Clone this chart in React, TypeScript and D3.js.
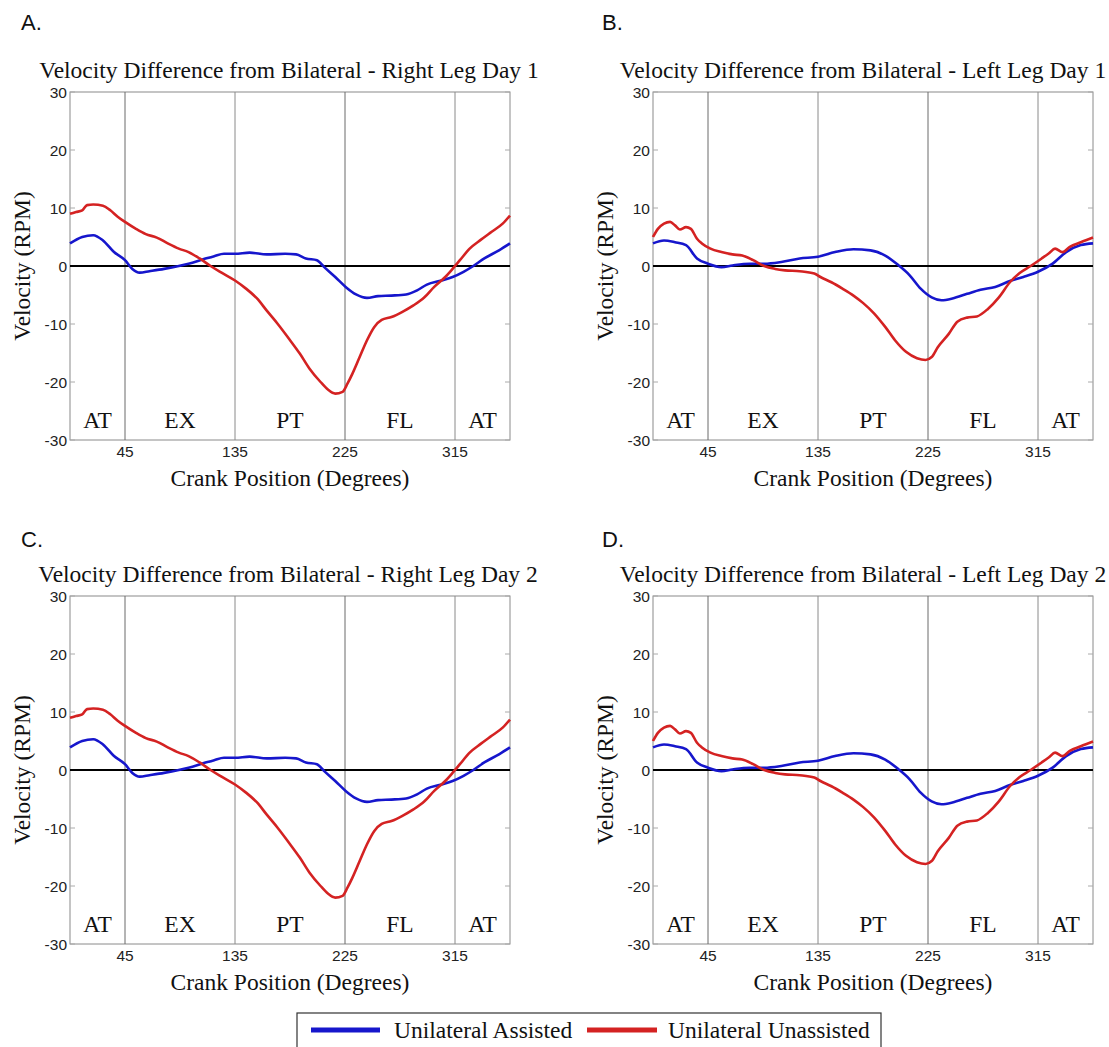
import React from "react";
import * as d3 from "d3";

// ---- Data ----
const rightAssistedAngles = [0, 10, 19, 27, 36, 45, 51, 57, 65, 77, 89, 97, 109, 118, 126, 135, 147, 161, 176, 185, 193, 202, 208, 217, 226, 234, 243, 252, 263, 275, 284, 292, 304, 313, 322, 330, 339, 351, 360];
const rightAssisted = [3.9, 5.0, 5.3, 4.4, 2.4, 1.0, -0.5, -1.15, -0.9, -0.5, 0, 0.4, 1.15, 1.7, 2.1, 2.1, 2.3, 2.0, 2.1, 2.0, 1.3, 1.0, -0.2, -1.9, -3.7, -4.9, -5.5, -5.2, -5.1, -4.9, -4.2, -3.2, -2.5, -1.9, -1.0, 0, 1.3, 2.7, 3.9];
const rightUnassistedAngles = [0, 5, 10, 14, 19, 27, 33, 39, 45, 54, 62, 71, 80, 89, 97, 106, 115, 124, 135, 144, 153, 161, 170, 179, 188, 196, 205, 211, 217, 223, 227, 231, 237, 243, 249, 255, 263, 272, 281, 290, 298, 307, 313, 319, 327, 336, 345, 354, 360];
const rightUnassisted = [9.0, 9.3, 9.6, 10.5, 10.6, 10.4, 9.6, 8.5, 7.6, 6.4, 5.5, 4.9, 3.9, 3.0, 2.4, 1.3, 0, -1.15, -2.5, -3.9, -5.6, -7.7, -10, -12.5, -15.1, -17.7, -20, -21.3, -22, -21.7, -20.3, -18.6, -15.7, -12.8, -10.5, -9.3, -8.8, -7.9, -6.8, -5.4, -3.6, -1.9, -0.5, 1.0, 3.0, 4.5, 5.9, 7.3, 8.7];

const leftAssistedAngles = [0, 9, 18, 27, 36, 45, 56, 65, 79, 91, 105, 120, 135, 149, 164, 178, 190, 201, 210, 219, 228, 236, 245, 257, 268, 280, 292, 303, 315, 327, 338, 350, 360];
const leftAssisted = [3.9, 4.4, 4.1, 3.6, 1.3, 0.4, -0.2, 0.1, 0.4, 0.4, 0.7, 1.3, 1.6, 2.4, 2.9, 2.7, 1.8, 0.1, -1.6, -3.9, -5.4, -5.9, -5.6, -4.8, -4.1, -3.6, -2.6, -1.9, -1.0, 0.4, 2.4, 3.6, 3.9];
const leftUnassistedAngles = [0, 4, 9, 14, 18, 22, 27, 31, 36, 40, 47, 56, 65, 73, 82, 91, 100, 108, 120, 132, 137, 146, 155, 164, 172, 181, 190, 198, 207, 216, 223, 228, 233, 242, 249, 257, 265, 274, 283, 292, 300, 309, 318, 324, 329, 335, 341, 350, 360];
const leftUnassisted = [5.0, 6.4, 7.3, 7.6, 7.0, 6.3, 6.7, 6.4, 4.7, 3.9, 3.0, 2.4, 2.0, 1.8, 1.0, 0, -0.5, -0.75, -0.9, -1.3, -1.9, -2.8, -3.9, -5.1, -6.4, -8.2, -10.5, -12.8, -14.8, -15.9, -16.2, -15.7, -14, -11.7, -9.6, -8.9, -8.7, -7.4, -5.4, -2.8, -1.2, 0, 1.3, 2.2, 3.0, 2.4, 3.3, 4.1, 4.9];

const yTicks = [-30, -20, -10, 0, 10, 20, 30];
const xTicks = [45, 135, 225, 315];
const phaseBounds = [45, 135, 225, 315];
const phaseLabels = ["AT", "EX", "PT", "FL", "AT"];
const phaseCenters = [22.5, 90, 180, 270, 337.5];
const panelLetters = ["A.", "B.", "C.", "D."];
const panelTitles = [
  "Velocity Difference from Bilateral - Right Leg Day 1",
  "Velocity Difference from Bilateral - Left Leg Day 1",
  "Velocity Difference from Bilateral - Right Leg Day 2",
  "Velocity Difference from Bilateral - Left Leg Day 2",
];
const legendLabels = ["Unilateral Assisted", "Unilateral Unassisted"];

const BLUE = "#1616cc";
const RED = "#d42222";
const SERIF = "'Liberation Serif', 'Times New Roman', serif";
const SANS = "'Liberation Sans', Arial, sans-serif";
const FS = 23.5;

type PanelProps = {
  left: number; top: number; width: number; height: number;
  letter: string; letterX: number; letterY: number; title: string; titleShift: number;
  aAngles: number[]; aVals: number[]; uAngles: number[]; uVals: number[];
};

function Panel(p: PanelProps) {
  const x = d3.scaleLinear().domain([0, 360]).range([p.left, p.left + p.width]);
  const y = d3.scaleLinear().domain([-30, 30]).range([p.top + p.height, p.top]);
  const line = d3.line<[number, number]>().x((d) => x(d[0])).y((d) => y(d[1])).curve(d3.curveMonotoneX);
  const aPts = p.aAngles.map((a, i) => [a, p.aVals[i]] as [number, number]);
  const uPts = p.uAngles.map((a, i) => [a, p.uVals[i]] as [number, number]);
  const cx = p.left + p.width / 2;
  const bottom = p.top + p.height;
  const right = p.left + p.width;
  return (
    <g>
      <text x={p.letterX} y={p.letterY} fontFamily={SANS} fontSize={22} fill="#111">{p.letter}</text>
      <text x={cx + p.titleShift} y={p.top - 14} fontFamily={SERIF} fontSize={FS} textAnchor="middle" fill="#111">{p.title}</text>
      {/* frame */}
      <rect x={p.left} y={p.top} width={p.width} height={p.height} fill="none" stroke="#8a8a8a" strokeWidth={1} />
      {/* y ticks */}
      {yTicks.map((t) => (
        <g key={t}>
          <line x1={p.left} x2={p.left + 5} y1={y(t)} y2={y(t)} stroke="#aaa" />
          <line x1={right - 5} x2={right} y1={y(t)} y2={y(t)} stroke="#aaa" />
          <text x={p.left - 3} y={y(t) + 5.5} fontFamily={SANS} fontSize={15.5} textAnchor="end" fill="#222">{t}</text>
        </g>
      ))}
      {/* phase lines */}
      {phaseBounds.map((b, i) => (
        <line key={b} x1={x(b)} x2={x(b)} y1={p.top} y2={bottom} stroke={i % 2 === 0 ? "#6a6a6a" : "#8a8a8a"} strokeWidth={1} />
      ))}
      {/* x tick labels */}
      {xTicks.map((t) => (
        <text key={t} x={x(t)} y={bottom + 17} fontFamily={SANS} fontSize={15.5} textAnchor="middle" fill="#222">{t}</text>
      ))}
      {/* zero line */}
      <line x1={p.left} x2={right} y1={y(0)} y2={y(0)} stroke="#000" strokeWidth={2} />
      {/* phase labels */}
      {phaseLabels.map((l, i) => (
        <text key={i} x={x(phaseCenters[i])} y={bottom - 12} fontFamily={SERIF} fontSize={FS} textAnchor="middle" fill="#111">{l}</text>
      ))}
      {/* series */}
      <path d={line(aPts) || ""} fill="none" stroke={BLUE} strokeWidth={2.6} strokeLinejoin="round" />
      <path d={line(uPts) || ""} fill="none" stroke={RED} strokeWidth={2.6} strokeLinejoin="round" />
      {/* axis titles */}
      <text x={cx} y={bottom + 46} fontFamily={SERIF} fontSize={FS} textAnchor="middle" fill="#111">Crank Position (Degrees)</text>
      <text transform={`translate(${p.left - 40},${p.top + p.height / 2}) rotate(-90)`} fontFamily={SERIF} fontSize={FS} textAnchor="middle" fill="#111">Velocity (RPM)</text>
    </g>
  );
}

export default function App() {
  const W = 1109, H = 1047;
  const pw = 440, ph = 348;
  const panels = [
    { left: 70, top: 92, lx: 21, ly: 30, ts: -1, a: rightAssistedAngles, av: rightAssisted, u: rightUnassistedAngles, uv: rightUnassisted },
    { left: 653, top: 92, lx: 602, ly: 30, ts: -10, a: leftAssistedAngles, av: leftAssisted, u: leftUnassistedAngles, uv: leftUnassisted },
    { left: 70, top: 596, lx: 21, ly: 547, ts: -2, a: rightAssistedAngles, av: rightAssisted, u: rightUnassistedAngles, uv: rightUnassisted },
    { left: 653, top: 596, lx: 602, ly: 547, ts: -10, a: leftAssistedAngles, av: leftAssisted, u: leftUnassistedAngles, uv: leftUnassisted },
  ];
  const legX = 297, legY = 1013;
  return (
    <svg width={W} height={H} style={{ position: "absolute", left: 0, top: 0, background: "#fff" }}>
      <rect x={0} y={0} width={W} height={H} fill="#fff" />
      {panels.map((pp, i) => (
        <Panel key={i} left={pp.left} top={pp.top} width={pw} height={ph}
          letter={panelLetters[i]} letterX={pp.lx} letterY={pp.ly} title={panelTitles[i]} titleShift={pp.ts}
          aAngles={pp.a} aVals={pp.av} uAngles={pp.u} uVals={pp.uv} />
      ))}
      {/* legend */}
      <rect x={legX} y={legY} width={584} height={40} fill="#fff" stroke="#333" strokeWidth={1.2} />
      <line x1={legX + 14} x2={legX + 83} y1={legY + 17} y2={legY + 17} stroke={BLUE} strokeWidth={5} />
      <text x={legX + 97} y={legY + 25} fontFamily={SERIF} fontSize={FS} fill="#111">{legendLabels[0]}</text>
      <line x1={legX + 290} x2={legX + 360} y1={legY + 17} y2={legY + 17} stroke={RED} strokeWidth={5} />
      <text x={legX + 371} y={legY + 25} fontFamily={SERIF} fontSize={FS} fill="#111">{legendLabels[1]}</text>
    </svg>
  );
}
